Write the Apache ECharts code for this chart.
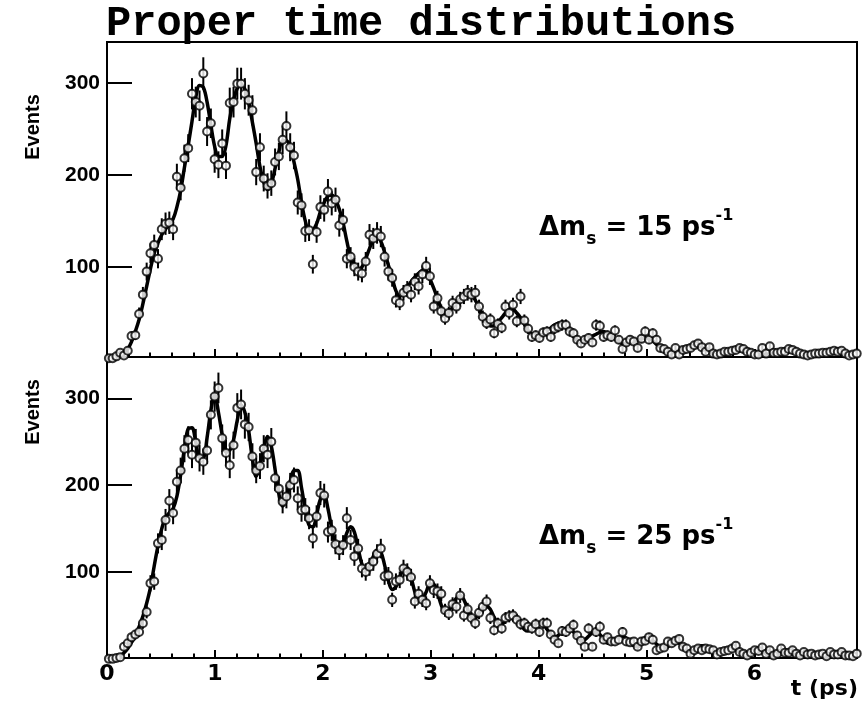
<!DOCTYPE html>
<html><head><meta charset="utf-8">
<script src="https://cdn.jsdelivr.net/npm/echarts@6/dist/echarts.min.js"></script>
<style>html,body{margin:0;padding:0;background:#fff}#c{width:866px;height:702px}</style>
</head><body><div id="c"></div>
<script>
const binCenters = [
0.0175,0.0525,0.0875,0.1225,0.1575,0.1925,0.2275,0.2625,0.2975,0.3325,
0.3675,0.4025,0.4375,0.4725,0.5075,0.5425,0.5775,0.6125,0.6475,0.6825,
0.7175,0.7525,0.7875,0.8225,0.8575,0.8925,0.9275,0.9625,0.9975,1.0325,
1.0675,1.1025,1.1375,1.1725,1.2075,1.2425,1.2775,1.3125,1.3475,1.3825,
1.4175,1.4525,1.4875,1.5225,1.5575,1.5925,1.6275,1.6625,1.6975,1.7325,
1.7675,1.8025,1.8375,1.8725,1.9075,1.9425,1.9775,2.0125,2.0475,2.0825,
2.1175,2.1525,2.1875,2.2225,2.2575,2.2925,2.3275,2.3625,2.3975,2.4325,
2.4675,2.5025,2.5375,2.5725,2.6075,2.6425,2.6775,2.7125,2.7475,2.7825,
2.8175,2.8525,2.8875,2.9225,2.9575,2.9925,3.0275,3.0625,3.0975,3.1325,
3.1675,3.2025,3.2375,3.2725,3.3075,3.3425,3.3775,3.4125,3.4475,3.4825,
3.5175,3.5525,3.5875,3.6225,3.6575,3.6925,3.7275,3.7625,3.7975,3.8325,
3.8675,3.9025,3.9375,3.9725,4.0075,4.0425,4.0775,4.1125,4.1475,4.1825,
4.2175,4.2525,4.2875,4.3225,4.3575,4.3925,4.4275,4.4625,4.4975,4.5325,
4.5675,4.6025,4.6375,4.6725,4.7075,4.7425,4.7775,4.8125,4.8475,4.8825,
4.9175,4.9525,4.9875,5.0225,5.0575,5.0925,5.1275,5.1625,5.1975,5.2325,
5.2675,5.3025,5.3375,5.3725,5.4075,5.4425,5.4775,5.5125,5.5475,5.5825,
5.6175,5.6525,5.6875,5.7225,5.7575,5.7925,5.8275,5.8625,5.8975,5.9325,
5.9675,6.0025,6.0375,6.0725,6.1075,6.1425,6.1775,6.2125,6.2475,6.2825,
6.3175,6.3525,6.3875,6.4225,6.4575,6.4925,6.5275,6.5625,6.5975,6.6325,
6.6675,6.7025,6.7375,6.7725,6.8075,6.8425,6.8775,6.9125,6.9475];

// Δm_s = 15 ps^-1 panel
const topCounts = [
1,1,3,7,4,9,25,26,49,70,
95,115,124,109,141,147,148,141,198,186,
218,229,288,279,275,310,247,256,217,211,
234,210,278,279,299,299,288,281,270,203,
230,196,188,191,214,220,238,253,230,221,
170,167,139,140,103,138,165,162,182,169,
173,145,151,109,111,100,95,93,106,135,
131,137,133,111,95,88,64,61,72,76,
70,84,79,92,101,90,57,66,52,44,
50,61,57,65,68,72,70,72,57,46,
39,43,28,38,34,57,50,59,41,68,
42,33,24,26,23,29,30,24,33,35,
37,37,30,28,21,17,21,23,18,37,
36,24,26,24,31,21,11,18,21,19,
12,22,30,21,28,21,12,11,8,5,
12,5,10,11,12,15,17,13,8,13,
6,5,6,8,8,9,10,12,11,8,
7,5,5,12,6,14,7,7,8,8,
11,10,8,6,5,4,5,6,6,7,
7,8,9,8,9,6,4,5,6];
const topFit = [
0,1,2,5,8,11,19,30,43,60,
79,98,115,126,135,141,147,152,165,183,
208,232,258,284,297,295,279,254,231,220,
220,232,261,281,294,299,293,279,257,234,
209,192,184,190,207,225,237,237,231,214,
195,170,150,139,140,147,160,170,177,178,
173,163,148,128,111,102,97,100,109,120,
129,133,128,116,102,88,74,68,72,78,
84,89,93,96,96,87,77,66,55,46,
51,56,61,66,70,73,70,64,56,45,
39,36,36,40,45,50,54,54,50,45,
38,31,27,25,24,27,31,34,37,39,
38,34,30,25,20,19,21,23,25,27,
29,30,28,25,22,19,17,17,18,19,
21,22,23,22,20,16,13,10,8,7,
8,10,12,13,14,15,15,13,11,8,
6,5,6,7,9,10,11,12,11,10,
8,6,5,5,5,6,7,8,9,10,
10,9,7,6,5,4,4,5,6,7,
8,8,8,7,6,5,4,4,4];

// Δm_s = 25 ps^-1 panel
const bottomCounts = [
0,0,1,2,14,18,25,28,31,41,
54,87,89,133,137,160,182,168,204,217,
242,252,235,249,231,227,240,281,302,312,
254,237,223,246,289,293,270,267,233,217,
222,242,235,250,208,196,181,187,200,206,
185,171,172,162,139,164,191,188,146,148,
132,125,131,162,137,118,127,104,100,106,
112,121,127,95,96,68,89,91,104,100,
94,66,75,68,64,87,79,78,75,56,
52,63,60,73,50,57,47,41,53,60,
66,47,33,41,35,47,49,50,45,40,
41,37,35,40,31,41,41,28,22,18,
32,31,35,39,27,21,14,35,14,31,
37,22,25,20,20,22,31,20,19,20,
14,20,21,25,22,10,12,13,20,18,
21,23,14,12,6,10,12,10,12,11,
10,5,8,9,10,12,15,8,6,4,
7,10,9,13,6,10,4,6,12,7,
7,10,6,4,8,5,6,4,5,6,
3,8,5,5,8,4,4,3,6];
const bottomFit = [
0,0,1,3,7,12,19,26,37,49,
64,82,107,130,150,163,168,173,187,212,
242,265,266,250,232,232,255,286,304,284,
258,238,240,252,275,292,284,263,230,210,
222,243,256,245,218,190,176,185,204,217,
217,197,172,154,152,166,184,188,173,150,
131,125,131,145,152,146,127,109,102,107,
118,125,123,108,90,80,83,94,104,105,
94,77,66,68,77,86,86,76,62,54,
56,63,70,73,68,57,47,47,53,59,
61,57,48,41,40,44,49,51,48,40,
34,32,35,40,42,40,34,28,25,27,
32,35,35,31,25,21,22,26,30,31,
28,22,18,18,21,25,26,24,19,15,
14,17,21,23,21,17,13,12,14,18,
19,18,14,10,9,10,13,15,14,11,
8,7,8,10,12,12,10,7,5,5,
7,9,9,8,6,4,4,5,6,7,
7,5,4,3,3,5,6,6,5,4,
3,3,4,5,5,4,3,2,2];

const xMajorTicks = [0,1,2,3,4,5,6];
const xMinorTicks = [0.2,0.4,0.6,0.8,1.2,1.4,1.6,1.8,2.2,2.4,2.6,2.8,3.2,3.4,3.6,3.8,4.2,4.4,4.6,4.8,5.2,5.4,5.6,5.8,6.2,6.4,6.6,6.8];
const yTicks = [100,200,300];
const titleText = 'Proper time distributions';
const yTitle = 'Events';
const xTitle = 't (ps)';
const deltaMValues = ['15','25'];

const chart = echarts.init(document.getElementById('c'), null, {renderer:'canvas'});

function pts(vals){ return binCenters.map((t,i)=>[t, vals[i]]); }
function errs(vals){ return binCenters.map((t,i)=>{ const e=Math.sqrt(vals[i]); return [t, vals[i]-e, vals[i]+e]; }); }

const LBL = '"Liberation Sans", Arial, sans-serif';
function xAxisMajor(grid, labels){
  return {gridIndex:grid, type:'value', min:0, max:6.95, position:'bottom',
    axisLine:{show:false}, splitLine:{show:false},
    axisTick:{show:true, inside:true, length:8, customValues:xMajorTicks, lineStyle:{color:'#000', width:2}},
    axisLabel:{show:labels, customValues:xMajorTicks, margin:5, color:'#000', fontSize:22, fontWeight:'bold', fontFamily:'"DejaVu Sans", sans-serif'}};
}
function xAxisMinor(grid){
  return {gridIndex:grid, type:'value', min:0, max:6.95, position:'bottom',
    axisLine:{show:false}, splitLine:{show:false}, axisLabel:{show:false},
    axisTick:{show:true, inside:true, length:4.5, customValues:xMinorTicks, lineStyle:{color:'#000', width:2}}};
}
function yAxis(grid, min, max){
  return {gridIndex:grid, type:'value', min:min, max:max,
    axisLine:{show:false}, splitLine:{show:false},
    axisTick:{show:true, inside:true, length:25, customValues:yTicks, lineStyle:{color:'#000', width:2}},
    axisLabel:{customValues:yTicks, margin:7, color:'#000', fontSize:21, fontWeight:'bold', fontFamily:LBL}};
}
function panelSeries(xi, yi, counts, fit){
  return [
    {type:'line', xAxisIndex:xi, yAxisIndex:yi, data:pts(fit), smooth:0.35, showSymbol:false, symbol:'none',
      lineStyle:{color:'#000', width:3.5}, z:2, silent:true},
    {type:'custom', xAxisIndex:xi, yAxisIndex:yi, data:errs(counts), clip:false, z:3, silent:true,
      encode:{x:0, y:[1,2]},
      renderItem:(params, api)=>{
        const t=api.value(0), lo=api.value(1), hi=api.value(2);
        const a=api.coord([t,lo]), b=api.coord([t,hi]);
        return {type:'line', shape:{x1:a[0], y1:a[1], x2:b[0], y2:b[1]}, style:{stroke:'#000', lineWidth:2}};
      }},
    {type:'scatter', xAxisIndex:xi, yAxisIndex:yi, data:pts(counts), symbol:'circle', symbolSize:8, clip:false, z:4, silent:true,
      itemStyle:{color:'#fff', borderColor:'#000', borderWidth:2}}
  ];
}
function dmLabel(y, val){
  return {type:'text', x:539, y:y, z:100, style:{
    text:'{a|\u0394m}{b|s}{a| = '+val+' ps}{c|-1}', fill:'#000', verticalAlign:'top', align:'left',
    rich:{
      a:{fontSize:26, fontWeight:'bold', fontFamily:'"DejaVu Sans", sans-serif', fill:'#000', lineHeight:40, verticalAlign:'middle'},
      b:{fontSize:17, fontWeight:'bold', fontFamily:'"DejaVu Sans", sans-serif', fill:'#000', lineHeight:17, verticalAlign:'bottom'},
      c:{fontSize:16, fontWeight:'bold', fontFamily:'"DejaVu Sans", sans-serif', fill:'#000', lineHeight:25, verticalAlign:'top'}
    }}};
}

const option = {
  animation:false,
  backgroundColor:'#fff',
  grid:[
    {left:107, top:42, width:750, height:315, show:true, borderColor:'#000', borderWidth:2, backgroundColor:'transparent'},
    {left:107, top:357, width:750, height:301, show:true, borderColor:'#000', borderWidth:2, backgroundColor:'transparent'}
  ],
  xAxis:[xAxisMajor(0,false), xAxisMinor(0), xAxisMajor(1,true), xAxisMinor(1)],
  yAxis:[yAxis(0, 2.3, 344.2), yAxis(1, 1.0, 347.6)],
  series:[].concat(panelSeries(0,0,topCounts,topFit), panelSeries(2,1,bottomCounts,bottomFit)),
  graphic:[
    {type:'text', x:106, y:3, z:100, style:{text:titleText, font:'bold 42px "Liberation Mono", "DejaVu Sans Mono", monospace', fill:'#000'}},
    {type:'text', x:33, y:127, rotation:Math.PI/2, z:100, style:{text:yTitle, font:'bold 20px "Liberation Sans", Arial, sans-serif', fill:'#000', align:'center', verticalAlign:'middle'}},
    {type:'text', x:33, y:412, rotation:Math.PI/2, z:100, style:{text:yTitle, font:'bold 20px "Liberation Sans", Arial, sans-serif', fill:'#000', align:'center', verticalAlign:'middle'}},
    {type:'text', x:858, y:689, z:100, style:{text:xTitle, font:'bold 22px "DejaVu Sans", sans-serif', fill:'#000', align:'right', verticalAlign:'middle'}},
    dmLabel(208, deltaMValues[0]),
    dmLabel(517, deltaMValues[1])
  ]
};
chart.setOption(option);
</script></body></html>
